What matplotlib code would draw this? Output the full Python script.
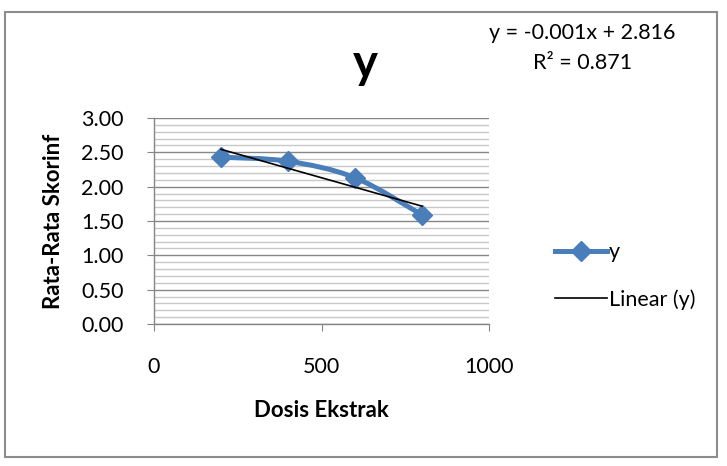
import matplotlib.pyplot as plt
import numpy as np
from matplotlib.path import Path
from matplotlib.patches import PathPatch, Rectangle
from matplotlib.lines import Line2D
from matplotlib.ticker import MultipleLocator

# Data
dosis = [200, 400, 600, 800]
skor = [2.43, 2.37, 2.13, 1.59]
x_ticks = [0, 500, 1000]
y_ticks = [0.0, 0.5, 1.0, 1.5, 2.0, 2.5, 3.0]
trend_text = 'y = -0.001x + 2.816'
r2_text = 'R² = 0.871'

plt.rcParams['font.family'] = ['Lato', 'DejaVu Sans']

blue = '#4A7EBB'
fs = 15.5

fig = plt.figure(figsize=(7.27, 4.66), dpi=100)
ax = fig.add_axes([154 / 727, 1 - 324 / 466, 335 / 727, 206 / 466])

# chart border
fig.patches.append(Rectangle((5 / 727, 1 - 457 / 466), 712 / 727, 445 / 466,
                             transform=fig.transFigure, fill=False,
                             edgecolor='#8c8c8c', linewidth=1.5))

# smoothed line (Excel-style bezier through the points)
xs = np.array(dosis, dtype=float)
ys = np.array(skor, dtype=float)
verts = [(xs[0], ys[0])]
codes = [Path.MOVETO]
n = len(xs)
for i in range(n - 1):
    p0 = (xs[max(i - 1, 0)], ys[max(i - 1, 0)])
    p1 = (xs[i], ys[i])
    p2 = (xs[i + 1], ys[i + 1])
    p3 = (xs[min(i + 2, n - 1)], ys[min(i + 2, n - 1)])
    c1 = (p1[0] + (p2[0] - p0[0]) / 6, p1[1] + (p2[1] - p0[1]) / 6)
    c2 = (p2[0] - (p3[0] - p1[0]) / 6, p2[1] - (p3[1] - p1[1]) / 6)
    verts += [c1, c2, p2]
    codes += [Path.CURVE4] * 3
ax.add_patch(PathPatch(Path(verts, codes), facecolor='none', edgecolor=blue,
                       linewidth=3.6, capstyle='round', joinstyle='round', zorder=3))
ax.plot(dosis, skor, linestyle='none', marker='D', markersize=10,
        color=blue, zorder=4)

# linear trend
slope, intercept = np.polyfit(xs, ys, 1)
ax.plot(xs, slope * xs + intercept, color='black', linewidth=1.2, zorder=5)

ax.set_xlim(0, 1000)
ax.set_ylim(0, 3)
ax.set_xticks(x_ticks)
ax.set_yticks(y_ticks)
ax.set_yticklabels(['%.2f' % v for v in y_ticks])
ax.yaxis.set_minor_locator(MultipleLocator(0.1))
ax.tick_params(axis='y', which='minor', length=0)
ax.tick_params(axis='both', which='major', length=5, color='#868686',
               labelsize=fs, direction='out')
ax.tick_params(axis='x', pad=19)
ax.tick_params(axis='y', pad=17)
ax.grid(axis='y', which='major', color='#868686', linewidth=1.0)
ax.grid(axis='y', which='minor', color='#c8c8c8', linewidth=1.0)
ax.set_axisbelow(True)
for s in ['top', 'right']:
    ax.spines[s].set_visible(False)
for s in ['left', 'bottom']:
    ax.spines[s].set_color('#868686')
    ax.spines[s].set_linewidth(1.0)

ax.set_xlabel('Dosis Ekstrak', fontsize=16, fontweight='bold', labelpad=16)
ax.set_ylabel('Rata-Rata Skorinf', fontsize=16, fontweight='bold')
ax.yaxis.set_label_coords(-0.27, 0.5)
fig.text(365 / 727, 1 - 64 / 466, 'y', fontsize=34, fontweight='bold',
         ha='center', va='center')

fig.text(582 / 727, 1 - 33 / 466, trend_text,
         fontsize=fs, ha='center', va='center')
fig.text(583 / 727, 1 - 63 / 466, r2_text,
         fontsize=fs, ha='center', va='center')

handles = [Line2D([], [], color=blue, linewidth=3.6, marker='D', markersize=10),
           Line2D([], [], color='black', linewidth=1.2)]
fig.legend(handles, ['y', 'Linear (y)'], loc='center left',
           bbox_to_anchor=(536 / 727, 1 - 276 / 466), frameon=False,
           fontsize=fs, handlelength=2.4, handletextpad=0.1, labelspacing=1.25)

fig.savefig('out.png', dpi=100)
